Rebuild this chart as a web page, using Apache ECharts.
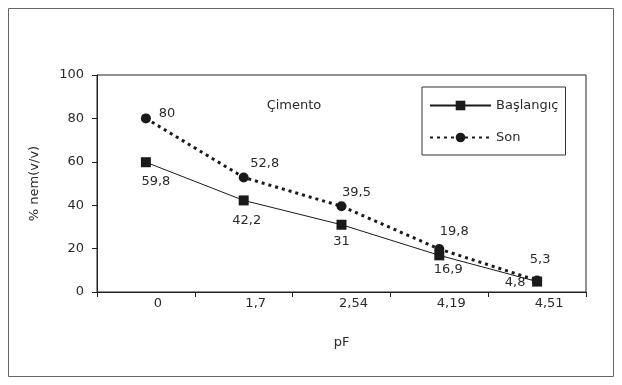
<!DOCTYPE html>
<html><head><meta charset="utf-8">
<script src="https://cdn.jsdelivr.net/npm/echarts@6/dist/echarts.min.js"></script>
<style>html,body{margin:0;padding:0;background:#fff}#c{width:622px;height:385px}</style>
</head><body><div id="c"></div>
<script>
const categories = ['0', '1,7', '2,54', '4,19', '4,51'];
const baslangic = [59.8, 42.2, 31, 16.9, 4.8];
const son = [80, 52.8, 39.5, 19.8, 5.3];
const yTicks = [0, 20, 40, 60, 80, 100];
const seriesNames = ['Başlangıç', 'Son'];
const chartTitle = 'Çimento';
const xName = 'pF';
const yName = '% nem(v/v)';

// label offsets (styling)
const offB = [[10, 19], [3, 20], [0, 17], [9, 14], [-22, 1]];
const offS = [[21, -5], [21, -14], [15, -14], [15, -17], [3, -21]];

const FONT = 'DejaVu Sans';
const FS = 13;
const TXT = '#2a2a2a';
const fmt = v => String(v).replace('.', ',');
function withLabels(arr, offs) {
  return arr.map((v, i) => ({
    value: v,
    label: { show: true, position: 'inside', offset: offs[i], formatter: fmt(v),
      color: TXT, fontFamily: FONT, fontSize: FS }
  }));
}

const chart = echarts.init(document.getElementById('c'), null, { renderer: 'canvas' });
chart.setOption({
  animation: false,
  backgroundColor: '#fff',
  textStyle: { fontFamily: FONT },
  graphic: [
    { type: 'rect', shape: { x: 8.5, y: 8.5, width: 605, height: 368 },
      style: { fill: 'none', stroke: '#666', lineWidth: 1 }, silent: true },
    { type: 'text', x: 294, y: 106,
      style: { text: chartTitle, fill: TXT, font: FS + 'px "DejaVu Sans"', align: 'center', verticalAlign: 'middle' } }
  ],
  grid: { left: 97, right: 36, top: 75, bottom: 93, show: true, borderColor: '#222', borderWidth: 1, backgroundColor: 'transparent' },
  legend: {
    left: 422, top: 87, orient: 'vertical',
    borderColor: '#333', borderWidth: 1, borderRadius: 0,
    padding: [12, 7, 11, 7], itemGap: 19, itemWidth: 61, itemHeight: 12,
    textStyle: { color: TXT, fontFamily: FONT, fontSize: FS },
    data: seriesNames
  },
  xAxis: {
    type: 'category', data: categories, boundaryGap: true,
    name: xName, nameLocation: 'middle', nameGap: 44,
    nameTextStyle: { color: TXT, fontFamily: FONT, fontSize: FS },
    axisLine: { lineStyle: { color: '#222', width: 1 } },
    axisTick: { show: true, length: 5, inside: false, lineStyle: { color: '#222' } },
    axisLabel: { color: TXT, fontFamily: FONT, fontSize: FS, margin: 5, padding: [0, 0, 0, 24] },
    splitLine: { show: false }
  },
  yAxis: {
    type: 'value', min: yTicks[0], max: yTicks[yTicks.length - 1], interval: 20,
    name: yName, nameLocation: 'middle', nameGap: 56, nameRotate: 90,
    nameTextStyle: { color: TXT, fontFamily: FONT, fontSize: FS },
    axisLine: { show: true, lineStyle: { color: '#222', width: 1 } },
    axisTick: { show: true, length: 5, inside: false, lineStyle: { color: '#222' } },
    axisLabel: { color: TXT, fontFamily: FONT, fontSize: FS, margin: 13 },
    splitLine: { show: false }
  },
  series: [
    { name: seriesNames[0], type: 'line', data: withLabels(baslangic, offB),
      symbol: 'rect', symbolSize: 10,
      itemStyle: { color: '#1a1a1a' },
      lineStyle: { color: '#1a1a1a', width: 1, type: 'solid' }, z: 3 },
    { name: seriesNames[1], type: 'line', data: withLabels(son, offS),
      symbol: 'circle', symbolSize: 10,
      itemStyle: { color: '#1a1a1a' },
      lineStyle: { color: '#1a1a1a', width: 3, type: [3, 4] }, z: 2 }
  ]
});
</script></body></html>
